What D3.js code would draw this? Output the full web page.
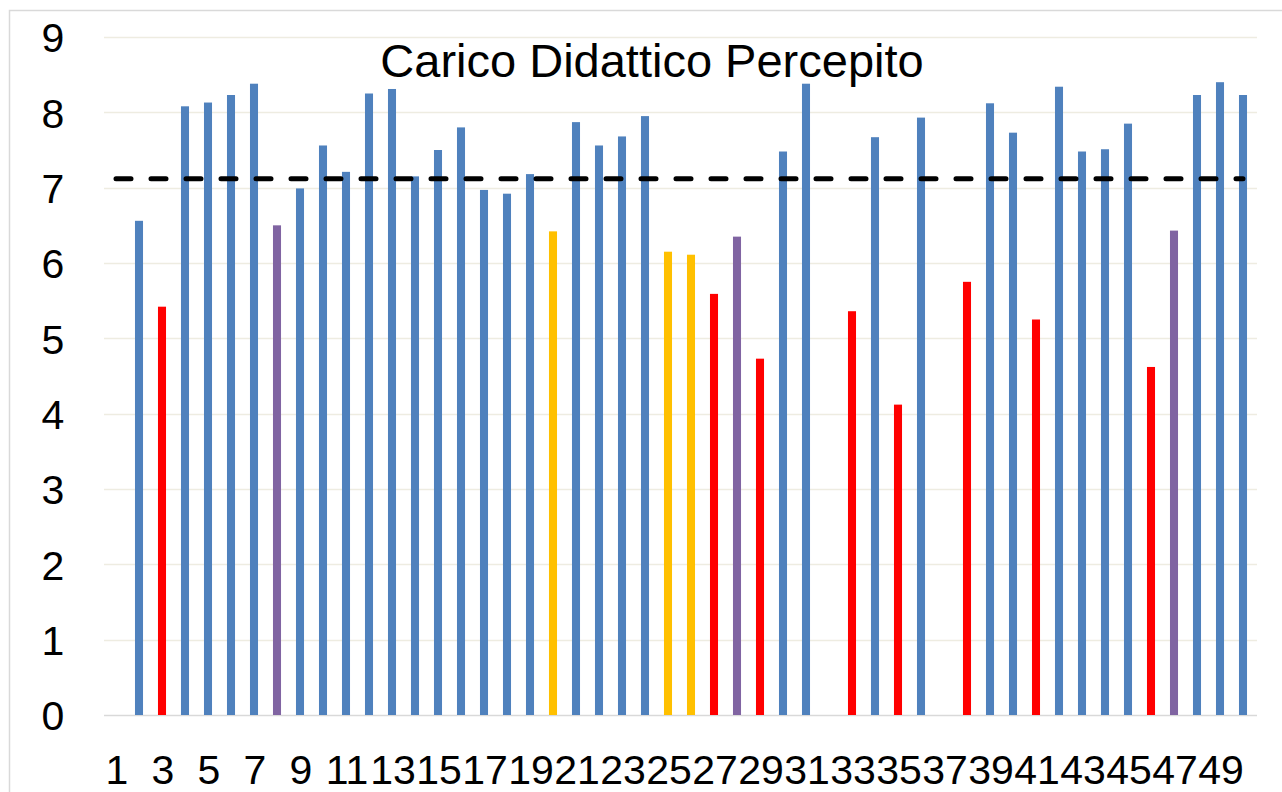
<!DOCTYPE html>
<html>
<head>
<meta charset="utf-8">
<script src="https://cdn.jsdelivr.net/npm/d3@7"></script>
<style>
  body { margin: 0; background: #fff; }
  text { font-family: "Liberation Sans", Arial, sans-serif; }
</style>
</head>
<body>
<div class="chart"></div>
<script>
// categories 1..50
const categories = d3.range(1, 51);

// perceived load per course (null = no bar)
const values = [
  null, 6.56, 5.42, 8.08, 8.13, 8.23, 8.38, 6.50, 6.99, 7.56,
  7.21, 8.25, 8.31, 7.15, 7.50, 7.80, 6.97, 6.92, 7.18, 6.42,
  7.87, 7.56, 7.68, 7.95, 6.15, 6.11, 5.59, 6.35, 4.73, 7.48,
  8.38, null, 5.36, 7.67, 4.12, 7.93, null, 5.75, 8.12, 7.73,
  5.25, 8.34, 7.48, 7.51, 7.85, 4.62, 6.43, 8.23, 8.40, 8.23
];

// group of each course: b = blue, r = red, p = purple, y = yellow
const groups = [
  "b","b","r","b","b","b","b","p","b","b",
  "b","b","b","b","b","b","b","b","b","y",
  "b","b","b","b","y","y","r","p","r","b",
  "b","b","r","b","r","b","b","r","b","b",
  "r","b","b","b","b","r","p","b","b","b"
];

const average = 7.12;
const yTicks = d3.range(0, 10);
const xTickLabels = categories.filter(d => d % 2 === 1);
const title = "Carico Didattico Percepito";

const width = 1282;
const height = 792;

const svg = d3.select(".chart")
  .append("svg")
  .attr("width", width)
  .attr("height", height);

// outer frame (cut off on right / bottom like the picture)
svg.append("rect")
  .attr("x", 9.5)
  .attr("y", 10.5)
  .attr("width", 1300)
  .attr("height", 800)
  .attr("fill", "none")
  .attr("stroke", "#d9d9d9")
  .attr("stroke-width", 1.5);

const x = d3.scaleBand()
  .domain(categories)
  .range([104.5, 1254.5])
  .padding(0);

const y = d3.scaleLinear()
  .domain([0, 9])
  .range([715, 37]);

const color = d3.scaleOrdinal()
  .domain(["b", "r", "p", "y"])
  .range(["#4f81bd", "#ff0000", "#8064a2", "#ffc000"]);

// gridlines
svg.selectAll("line.grid")
  .data(yTicks)
  .enter()
  .append("line")
  .attr("class", "grid")
  .attr("x1", 104)
  .attr("x2", 1257)
  .attr("y1", d => Math.round(y(d)) + 0.5)
  .attr("y2", d => Math.round(y(d)) + 0.5)
  .attr("stroke", d => d === 0 ? "#d9d9d9" : "#eeece1")
  .attr("stroke-width", 1.5);

// bars
const data = categories.map((c, i) => ({ cat: c, value: values[i], group: groups[i] }))
  .filter(d => d.value !== null);

const barW = x.bandwidth() * 0.35;

svg.selectAll("rect.bar")
  .data(data)
  .enter()
  .append("rect")
  .attr("class", "bar")
  .attr("x", d => x(d.cat) + x.bandwidth() / 2 - barW / 2)
  .attr("y", d => y(d.value))
  .attr("width", barW)
  .attr("height", d => y(0) - y(d.value))
  .attr("fill", d => color(d.group));

// average dashed line
const avgLine = d3.line()
  .x(d => x(d) + x.bandwidth() / 2)
  .y(() => y(average));

svg.append("path")
  .datum([categories[0], categories[categories.length - 1]])
  .attr("d", avgLine)
  .attr("fill", "none")
  .attr("stroke", "#000")
  .attr("stroke-width", 5)
  .attr("stroke-linecap", "round")
  .attr("stroke-dasharray", "15,20");

// y axis labels
const yAxis = d3.axisLeft(y)
  .tickValues(yTicks)
  .tickSize(0)
  .tickPadding(0);

const gy = svg.append("g")
  .attr("transform", "translate(53,0)")
  .call(yAxis);
gy.select(".domain").remove();
gy.selectAll("text")
  .attr("text-anchor", "middle")
  .attr("font-size", 41)
  .attr("font-family", "Liberation Sans, Arial, sans-serif")
  .attr("fill", "#000")
  .attr("dy", "0.36em");

// x axis labels
const xAxis = d3.axisBottom(x)
  .tickValues(xTickLabels)
  .tickSize(0)
  .tickPadding(0);

const gx = svg.append("g")
  .attr("transform", "translate(1,784)")
  .call(xAxis);
gx.select(".domain").remove();
gx.selectAll("text")
  .attr("y", 0)
  .attr("dy", 0)
  .attr("font-size", 41)
  .attr("font-family", "Liberation Sans, Arial, sans-serif")
  .attr("fill", "#000");

// title
svg.append("text")
  .text(title)
  .attr("x", 652)
  .attr("y", 77)
  .attr("text-anchor", "middle")
  .attr("font-size", 47)
  .attr("fill", "#000");
</script>
</body>
</html>
